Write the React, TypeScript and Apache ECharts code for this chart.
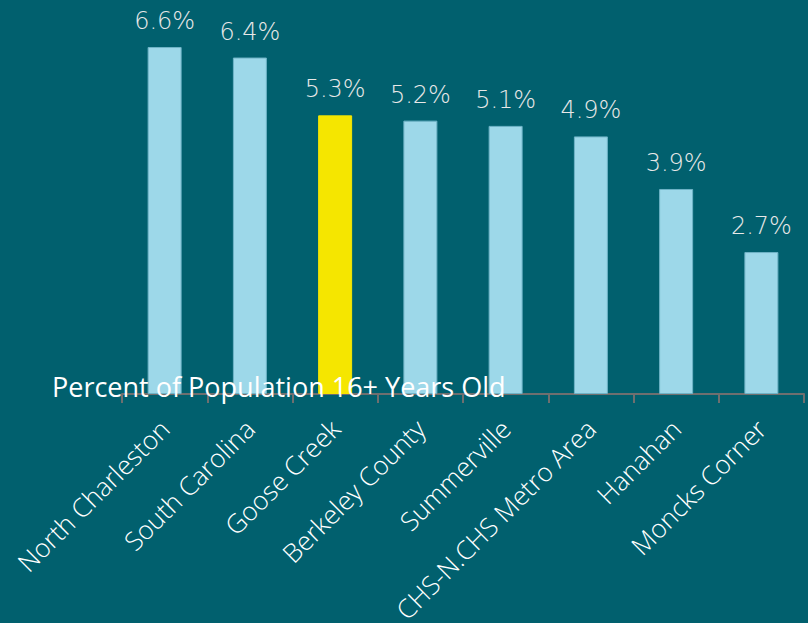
import React, { useEffect, useRef } from "react";
import * as echarts from "echarts";

const categories = [
  "North Charleston",
  "South Carolina",
  "Goose Creek",
  "Berkeley County",
  "Summerville",
  "CHS-N.CHS Metro Area",
  "Hanahan",
  "Moncks Corner",
];
const values = [6.6, 6.4, 5.3, 5.2, 5.1, 4.9, 3.9, 2.7];
const highlightCategory = "Goose Creek";
const axisTitle = "Percent of Population 16+ Years Old";

export default function App() {
  const ref = useRef<HTMLDivElement>(null);
  useEffect(() => {
    if (!ref.current) return;
    const chart = echarts.init(ref.current, undefined, { renderer: "svg" });
    chart.setOption({
      animation: false,
      backgroundColor: "#01606e",
      grid: {
        left: 122,
        right: 4,
        top: 26,
        bottom: 229,
        containLabel: false,
        outerBoundsMode: "none",
      },
      xAxis: {
        type: "category",
        data: categories,
        axisLine: { lineStyle: { color: "#6f6f6f", width: 2 } },
        axisTick: { show: true, length: 9, lineStyle: { color: "#6f6f6f", width: 2 } },
        axisLabel: {
          rotate: 45,
          margin: 30,
          color: "#ffffff",
          fontSize: 26,
          fontFamily: "Open Sans",
          fontWeight: 300,
          interval: 0,
        },
      },
      yAxis: {
        type: "value",
        min: 0,
        max: 7,
        show: false,
        splitLine: { show: false },
      },
      series: [
        {
          type: "bar",
          barWidth: 34,
          data: values.map((v, i) => ({
            value: v,
            itemStyle: {
              color: categories[i] === highlightCategory ? "#f5e600" : "#9dd8e9",
              borderColor: categories[i] === highlightCategory ? "#f5e600" : "#6fb3c6",
              borderWidth: 1,
            },
          })),
          label: {
            show: true,
            position: "top",
            distance: 14,
            formatter: (p: any) => p.value.toFixed(1) + "%",
            color: "#e8e8e8",
            fontSize: 24,
            fontFamily: "DejaVu Sans",
            fontWeight: 200,
          },
        },
      ],
      graphic: [
        {
          type: "text",
          left: 52,
          top: 373,
          z: 100,
          style: {
            text: axisTitle,
            fill: "#ffffff",
            fontSize: 27,
            fontFamily: "Open Sans",
            fontWeight: 400,
          },
        },
      ],
    });
    return () => chart.dispose();
  }, []);
  return <div ref={ref} style={{ width: 808, height: 623, position: "absolute", left: 0, top: 0 }} />;
}
